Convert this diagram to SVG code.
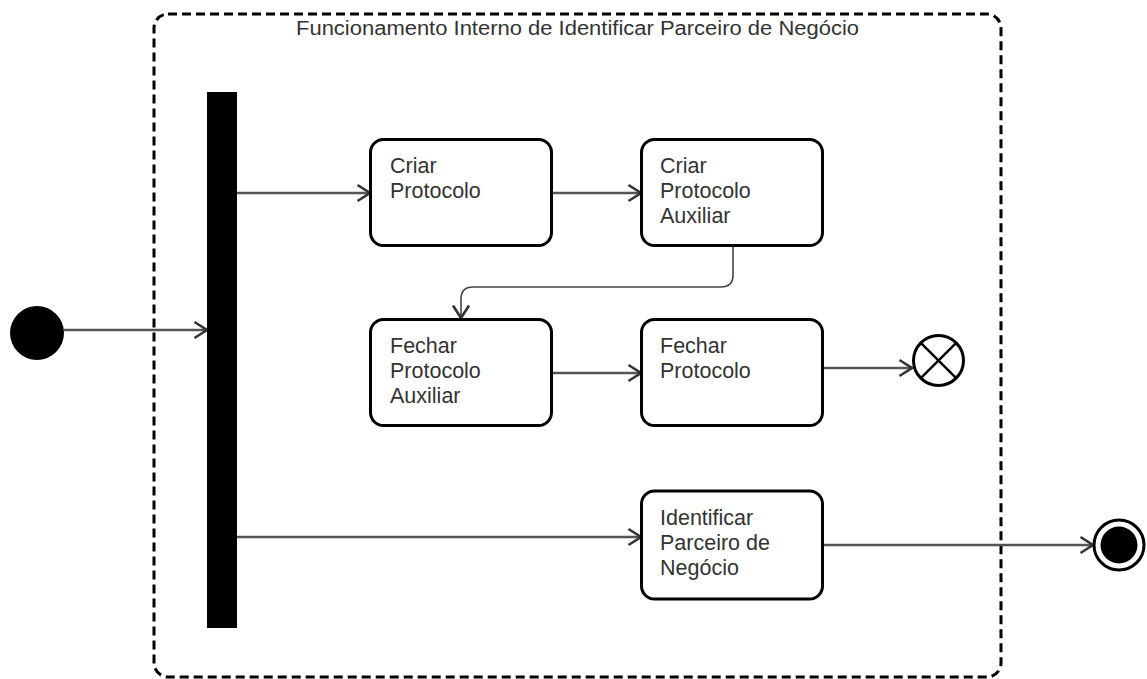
<svg xmlns="http://www.w3.org/2000/svg" width="1147" height="679" viewBox="0 0 1147 679">
  <style>
    .frame { fill: none; stroke: #000; stroke-width: 3; stroke-dasharray: 9 5; }
    .title { font-family: "Liberation Sans", Arial, sans-serif; font-size: 20px; fill: #333; }
    .action { fill: #fff; stroke: #000; stroke-width: 3; }
    .label { font-family: "Liberation Sans", Arial, sans-serif; font-size: 21.5px; fill: #333; }
    .flow { fill: none; stroke: #555; stroke-width: 2.5; marker-end: url(#arrow); }
    .flow.thin { stroke: #444; stroke-width: 1.6; }
  </style>
  <defs>
    <marker id="arrow" markerUnits="userSpaceOnUse" viewBox="0 -10 16 20" refX="14" refY="0" markerWidth="16" markerHeight="20" orient="auto">
      <path d="M1.5,-8 L14,0 L1.5,8" fill="none" stroke="#333" stroke-width="2.6" stroke-linejoin="miter"/>
    </marker>
  </defs>

  <!-- activity frame -->
  <g id="frame">
    <rect class="frame" x="154" y="14" width="847" height="663" rx="14" ry="14"/>
    <text class="title" x="577.5" y="35" text-anchor="middle" textLength="563" lengthAdjust="spacingAndGlyphs">Funcionamento Interno de Identificar Parceiro de Negócio</text>
  </g>

  <!-- connectors -->
  <g id="connectors">
    <path class="flow" d="M64,330 H207"/>
    <path class="flow" d="M237,193 H370"/>
    <path class="flow" d="M552,193 H641"/>
    <path class="flow thin" d="M733,247 V275 Q733,287 721,287 H473 Q461,287 461,299 V318"/>
    <path class="flow" d="M552,373 H641"/>
    <path class="flow" d="M823,368 H912"/>
    <path class="flow" d="M237,537 H641"/>
    <path class="flow" d="M823,545 H1093"/>
  </g>

  <!-- initial node -->
  <g id="initial">
    <circle cx="37" cy="333" r="27" fill="#000"/>
  </g>

  <!-- fork bar -->
  <g id="fork">
    <rect x="207" y="92" width="30" height="536" fill="#000"/>
  </g>

  <g id="criar-protocolo">
    <rect class="action" x="370.5" y="139.5" width="181" height="106" rx="13" ry="13"/>
    <text class="label" x="390" y="173">Criar</text>
    <text class="label" x="390" y="198">Protocolo</text>
  </g>

  <g id="criar-protocolo-auxiliar">
    <rect class="action" x="641.5" y="139.5" width="181" height="106" rx="13" ry="13"/>
    <text class="label" x="660" y="173">Criar</text>
    <text class="label" x="660" y="198">Protocolo</text>
    <text class="label" x="660" y="223">Auxiliar</text>
  </g>

  <g id="fechar-protocolo-auxiliar">
    <rect class="action" x="370.5" y="319.5" width="181" height="106" rx="13" ry="13"/>
    <text class="label" x="390" y="353">Fechar</text>
    <text class="label" x="390" y="378">Protocolo</text>
    <text class="label" x="390" y="403">Auxiliar</text>
  </g>

  <g id="fechar-protocolo">
    <rect class="action" x="641.5" y="319.5" width="181" height="106" rx="13" ry="13"/>
    <text class="label" x="660" y="353">Fechar</text>
    <text class="label" x="660" y="378">Protocolo</text>
  </g>

  <g id="identificar-parceiro">
    <rect class="action" x="641.5" y="491" width="181" height="108" rx="13" ry="13"/>
    <text class="label" x="660" y="525">Identificar</text>
    <text class="label" x="660" y="550">Parceiro de</text>
    <text class="label" x="660" y="575">Negócio</text>
  </g>

  <!-- flow final -->
  <g id="flow-final">
    <circle cx="938.5" cy="360.5" r="25" fill="#fff" stroke="#000" stroke-width="3"/>
    <path d="M920.8,342.8 L956.2,378.2 M956.2,342.8 L920.8,378.2" stroke="#000" stroke-width="2.5"/>
  </g>

  <!-- activity final -->
  <g id="final">
    <circle cx="1119" cy="545" r="25" fill="#fff" stroke="#000" stroke-width="3"/>
    <circle cx="1119" cy="545" r="18.5" fill="#000"/>
  </g>
</svg>
